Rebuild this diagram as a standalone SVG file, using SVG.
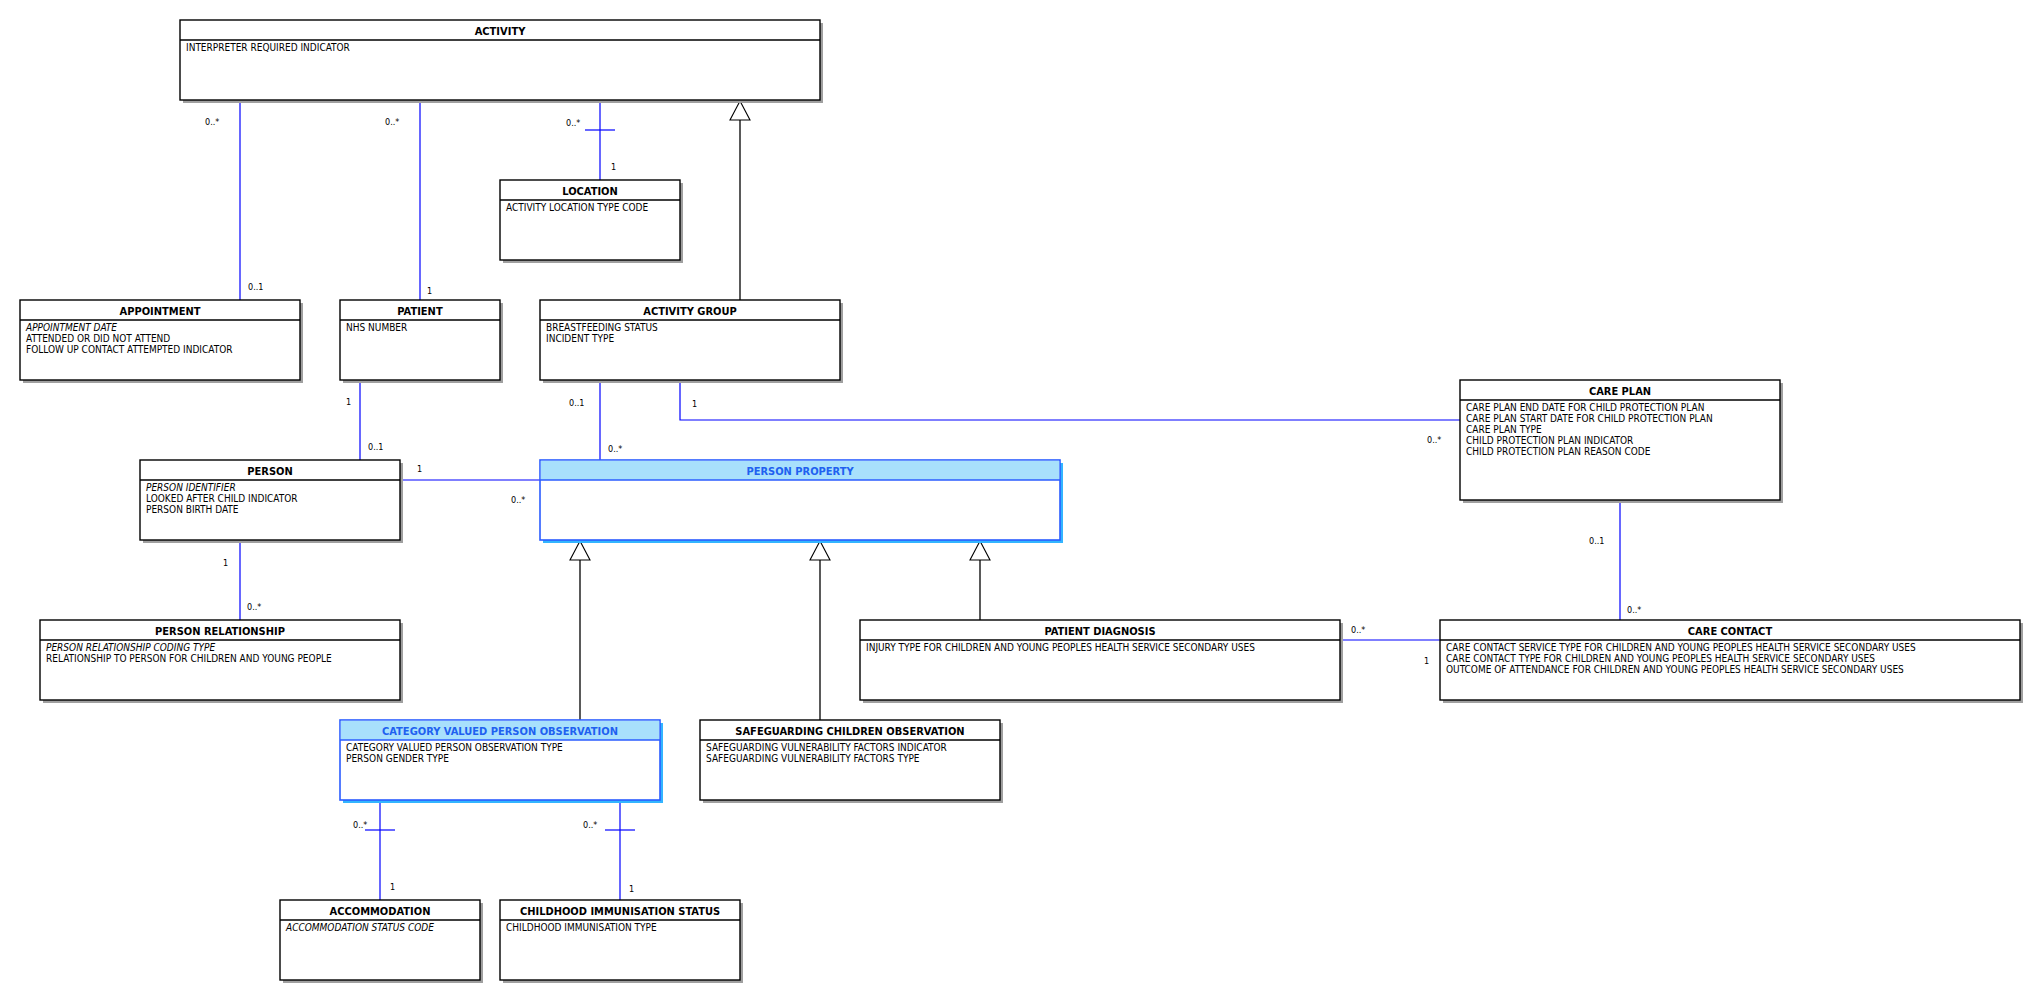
<svg xmlns="http://www.w3.org/2000/svg" width="2040" height="1000" viewBox="0 0 2040 1000">
<style>
.bg{fill:#ffffff}
.sh{fill:#a0a0a0}
.box{fill:#ffffff;stroke:#000000;stroke-width:1.4}
.div{stroke:#000000;stroke-width:1.4}
.shb{fill:#33b5ff}
.boxb{fill:#ffffff;stroke:#2b5cff;stroke-width:1.6}
.hdrb{fill:#a8e0fc}
.divb{stroke:#2b5cff;stroke-width:1.6}
.t{font-family:"DejaVu Sans Condensed","DejaVu Sans",sans-serif;font-size:11px;font-weight:bold;fill:#000;text-anchor:middle}
.tb{font-family:"DejaVu Sans Condensed","DejaVu Sans",sans-serif;font-size:11px;font-weight:bold;fill:#2060f0;text-anchor:middle}
.a{font-family:"DejaVu Sans Condensed","DejaVu Sans",sans-serif;font-size:10px;fill:#000}
.i{font-style:italic}
.m{font-family:"DejaVu Sans Condensed","DejaVu Sans",sans-serif;font-size:9px;fill:#000}
.as{fill:none;stroke:#0000ff;stroke-width:1.2}
.ge{fill:none;stroke:#000;stroke-width:1.3}
.tri{fill:#fff;stroke:#000;stroke-width:1.1}
</style>
<rect class="bg" x="0" y="0" width="2040" height="1000"/>

<g id="connectors">
  <line class="as" x1="240" y1="100" x2="240" y2="300"/>
  <line class="as" x1="420" y1="100" x2="420" y2="300"/>
  <line class="as" x1="600" y1="100" x2="600" y2="180"/>
  <line class="as" x1="585" y1="130" x2="615" y2="130"/>
  <line class="as" x1="360" y1="380" x2="360" y2="460"/>
  <line class="as" x1="400" y1="480" x2="540" y2="480"/>
  <line class="as" x1="240" y1="540" x2="240" y2="620"/>
  <line class="as" x1="600" y1="380" x2="600" y2="460"/>
  <polyline class="as" points="680,380 680,420 1460,420"/>
  <line class="as" x1="1620" y1="500" x2="1620" y2="620"/>
  <line class="as" x1="1340" y1="640" x2="1440" y2="640"/>
  <line class="as" x1="380" y1="800" x2="380" y2="900"/>
  <line class="as" x1="365" y1="830" x2="395" y2="830"/>
  <line class="as" x1="620" y1="800" x2="620" y2="900"/>
  <line class="as" x1="605" y1="830" x2="635" y2="830"/>
  <line class="ge" x1="740" y1="300" x2="740" y2="120"/>
  <polygon class="tri" points="740,101 730,120 750,120"/>
  <line class="ge" x1="580" y1="720" x2="580" y2="560"/>
  <polygon class="tri" points="580,541 570,560 590,560"/>
  <line class="ge" x1="820" y1="720" x2="820" y2="560"/>
  <polygon class="tri" points="820,541 810,560 830,560"/>
  <line class="ge" x1="980" y1="620" x2="980" y2="560"/>
  <polygon class="tri" points="980,541 970,560 990,560"/>
  <text class="m" x="205" y="125">0..*</text>
  <text class="m" x="248" y="290">0..1</text>
  <text class="m" x="385" y="125">0..*</text>
  <text class="m" x="427" y="294">1</text>
  <text class="m" x="566" y="126">0..*</text>
  <text class="m" x="611" y="170">1</text>
  <text class="m" x="346" y="405">1</text>
  <text class="m" x="368" y="450">0..1</text>
  <text class="m" x="417" y="472">1</text>
  <text class="m" x="511" y="503">0..*</text>
  <text class="m" x="223" y="566">1</text>
  <text class="m" x="247" y="610">0..*</text>
  <text class="m" x="569" y="406">0..1</text>
  <text class="m" x="608" y="452">0..*</text>
  <text class="m" x="692" y="407">1</text>
  <text class="m" x="1427" y="443">0..*</text>
  <text class="m" x="1589" y="544">0..1</text>
  <text class="m" x="1627" y="613">0..*</text>
  <text class="m" x="1351" y="633">0..*</text>
  <text class="m" x="1424" y="664">1</text>
  <text class="m" x="353" y="828">0..*</text>
  <text class="m" x="390" y="890">1</text>
  <text class="m" x="583" y="828">0..*</text>
  <text class="m" x="629" y="892">1</text>
</g>

<g id="activity">
  <rect class="sh" x="183" y="23" width="640" height="80"/>
  <rect class="box" x="180" y="20" width="640" height="80"/>
  <line class="div" x1="180" y1="40" x2="820" y2="40"/>
  <text class="t" x="500" y="35">ACTIVITY</text>
  <text class="a" x="186" y="51">INTERPRETER REQUIRED INDICATOR</text>
</g>

<g id="location">
  <rect class="sh" x="503" y="183" width="180" height="80"/>
  <rect class="box" x="500" y="180" width="180" height="80"/>
  <line class="div" x1="500" y1="200" x2="680" y2="200"/>
  <text class="t" x="590" y="195">LOCATION</text>
  <text class="a" x="506" y="211">ACTIVITY LOCATION TYPE CODE</text>
</g>

<g id="appointment">
  <rect class="sh" x="23" y="303" width="280" height="80"/>
  <rect class="box" x="20" y="300" width="280" height="80"/>
  <line class="div" x1="20" y1="320" x2="300" y2="320"/>
  <text class="t" x="160" y="315">APPOINTMENT</text>
  <text class="a i" x="26" y="331">APPOINTMENT DATE</text>
  <text class="a" x="26" y="342">ATTENDED OR DID NOT ATTEND</text>
  <text class="a" x="26" y="353">FOLLOW UP CONTACT ATTEMPTED INDICATOR</text>
</g>

<g id="patient">
  <rect class="sh" x="343" y="303" width="160" height="80"/>
  <rect class="box" x="340" y="300" width="160" height="80"/>
  <line class="div" x1="340" y1="320" x2="500" y2="320"/>
  <text class="t" x="420" y="315">PATIENT</text>
  <text class="a" x="346" y="331">NHS NUMBER</text>
</g>

<g id="activity-group">
  <rect class="sh" x="543" y="303" width="300" height="80"/>
  <rect class="box" x="540" y="300" width="300" height="80"/>
  <line class="div" x1="540" y1="320" x2="840" y2="320"/>
  <text class="t" x="690" y="315">ACTIVITY GROUP</text>
  <text class="a" x="546" y="331">BREASTFEEDING STATUS</text>
  <text class="a" x="546" y="342">INCIDENT TYPE</text>
</g>

<g id="care-plan">
  <rect class="sh" x="1463" y="383" width="320" height="120"/>
  <rect class="box" x="1460" y="380" width="320" height="120"/>
  <line class="div" x1="1460" y1="400" x2="1780" y2="400"/>
  <text class="t" x="1620" y="395">CARE PLAN</text>
  <text class="a" x="1466" y="411">CARE PLAN END DATE FOR CHILD PROTECTION PLAN</text>
  <text class="a" x="1466" y="422">CARE PLAN START DATE FOR CHILD PROTECTION PLAN</text>
  <text class="a" x="1466" y="433">CARE PLAN TYPE</text>
  <text class="a" x="1466" y="444">CHILD PROTECTION PLAN INDICATOR</text>
  <text class="a" x="1466" y="455">CHILD PROTECTION PLAN REASON CODE</text>
</g>

<g id="person">
  <rect class="sh" x="143" y="463" width="260" height="80"/>
  <rect class="box" x="140" y="460" width="260" height="80"/>
  <line class="div" x1="140" y1="480" x2="400" y2="480"/>
  <text class="t" x="270" y="475">PERSON</text>
  <text class="a i" x="146" y="491">PERSON IDENTIFIER</text>
  <text class="a" x="146" y="502">LOOKED AFTER CHILD INDICATOR</text>
  <text class="a" x="146" y="513">PERSON BIRTH DATE</text>
</g>

<g id="person-property">
  <rect class="shb" x="543" y="463" width="520" height="80"/>
  <rect class="boxb" x="540" y="460" width="520" height="80"/>
  <rect class="hdrb" x="540.8" y="460.8" width="518.4" height="19.2"/>
  <line class="divb" x1="540" y1="480" x2="1060" y2="480"/>
  <text class="tb" x="800" y="475">PERSON PROPERTY</text>
</g>

<g id="person-relationship">
  <rect class="sh" x="43" y="623" width="360" height="80"/>
  <rect class="box" x="40" y="620" width="360" height="80"/>
  <line class="div" x1="40" y1="640" x2="400" y2="640"/>
  <text class="t" x="220" y="635">PERSON RELATIONSHIP</text>
  <text class="a i" x="46" y="651">PERSON RELATIONSHIP CODING TYPE</text>
  <text class="a" x="46" y="662">RELATIONSHIP TO PERSON FOR CHILDREN AND YOUNG PEOPLE</text>
</g>

<g id="patient-diagnosis">
  <rect class="sh" x="863" y="623" width="480" height="80"/>
  <rect class="box" x="860" y="620" width="480" height="80"/>
  <line class="div" x1="860" y1="640" x2="1340" y2="640"/>
  <text class="t" x="1100" y="635">PATIENT DIAGNOSIS</text>
  <text class="a" x="866" y="651">INJURY TYPE FOR CHILDREN AND YOUNG PEOPLES HEALTH SERVICE SECONDARY USES</text>
</g>

<g id="care-contact">
  <rect class="sh" x="1443" y="623" width="580" height="80"/>
  <rect class="box" x="1440" y="620" width="580" height="80"/>
  <line class="div" x1="1440" y1="640" x2="2020" y2="640"/>
  <text class="t" x="1730" y="635">CARE CONTACT</text>
  <text class="a" x="1446" y="651">CARE CONTACT SERVICE TYPE FOR CHILDREN AND YOUNG PEOPLES HEALTH SERVICE SECONDARY USES</text>
  <text class="a" x="1446" y="662">CARE CONTACT TYPE FOR CHILDREN AND YOUNG PEOPLES HEALTH SERVICE SECONDARY USES</text>
  <text class="a" x="1446" y="673">OUTCOME OF ATTENDANCE FOR CHILDREN AND YOUNG PEOPLES HEALTH SERVICE SECONDARY USES</text>
</g>

<g id="category-valued-person-observation">
  <rect class="shb" x="343" y="723" width="320" height="80"/>
  <rect class="boxb" x="340" y="720" width="320" height="80"/>
  <rect class="hdrb" x="340.8" y="720.8" width="318.4" height="19.2"/>
  <line class="divb" x1="340" y1="740" x2="660" y2="740"/>
  <text class="tb" x="500" y="735">CATEGORY VALUED PERSON OBSERVATION</text>
  <text class="a" x="346" y="751">CATEGORY VALUED PERSON OBSERVATION TYPE</text>
  <text class="a" x="346" y="762">PERSON GENDER TYPE</text>
</g>

<g id="safeguarding-children-observation">
  <rect class="sh" x="703" y="723" width="300" height="80"/>
  <rect class="box" x="700" y="720" width="300" height="80"/>
  <line class="div" x1="700" y1="740" x2="1000" y2="740"/>
  <text class="t" x="850" y="735">SAFEGUARDING CHILDREN OBSERVATION</text>
  <text class="a" x="706" y="751">SAFEGUARDING VULNERABILITY FACTORS INDICATOR</text>
  <text class="a" x="706" y="762">SAFEGUARDING VULNERABILITY FACTORS TYPE</text>
</g>

<g id="accommodation">
  <rect class="sh" x="283" y="903" width="200" height="80"/>
  <rect class="box" x="280" y="900" width="200" height="80"/>
  <line class="div" x1="280" y1="920" x2="480" y2="920"/>
  <text class="t" x="380" y="915">ACCOMMODATION</text>
  <text class="a i" x="286" y="931">ACCOMMODATION STATUS CODE</text>
</g>

<g id="childhood-immunisation-status">
  <rect class="sh" x="503" y="903" width="240" height="80"/>
  <rect class="box" x="500" y="900" width="240" height="80"/>
  <line class="div" x1="500" y1="920" x2="740" y2="920"/>
  <text class="t" x="620" y="915">CHILDHOOD IMMUNISATION STATUS</text>
  <text class="a" x="506" y="931">CHILDHOOD IMMUNISATION TYPE</text>
</g>
</svg>
